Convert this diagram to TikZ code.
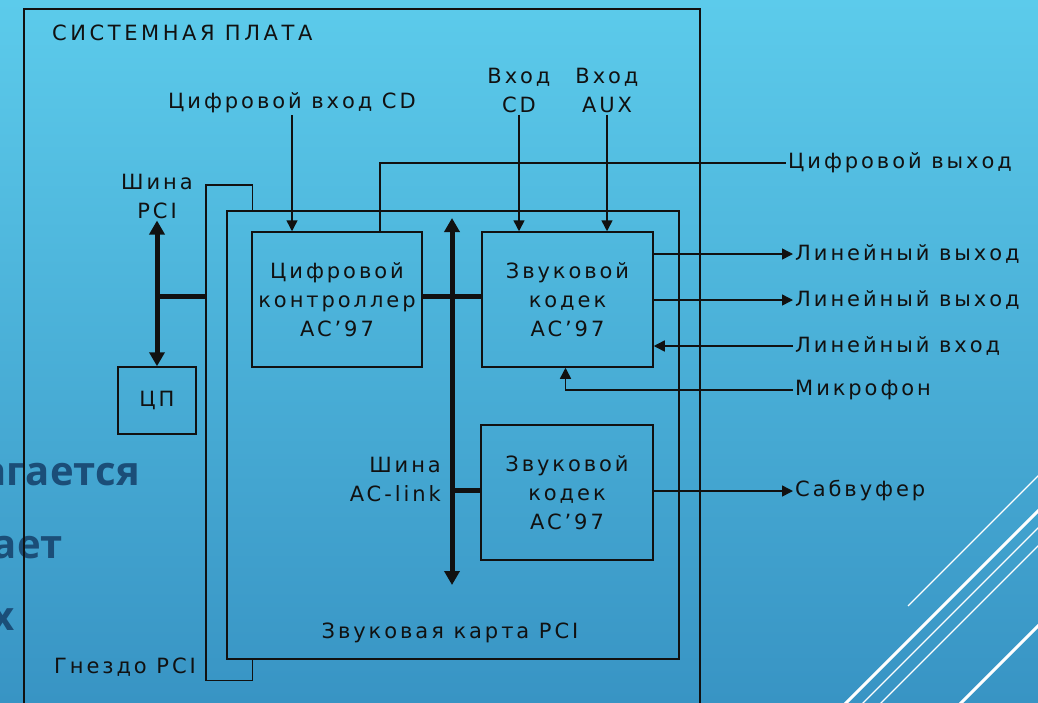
\documentclass[tikz,border=0pt]{standalone}
\usepackage{fontspec}
\newfontfamily\df[LetterSpace=14]{DejaVu Sans}
\newfontfamily\dfcaps[LetterSpace=17]{DejaVu Sans}
\newfontfamily\pop{Open Sans}
\usetikzlibrary{arrows.meta,calc}
\definecolor{bgtop}{RGB}{92,203,235}
\definecolor{bgbot}{RGB}{56,148,196}
\definecolor{slidetxt}{RGB}{27,78,120}
\definecolor{ink}{RGB}{17,17,17}
\begin{document}
\begin{tikzpicture}[x=1pt,y=-1pt,
  lbl/.style={font=\fontsize{21}{29}\selectfont\df, text=ink, inner sep=2pt, align=center},
  blk/.style={lbl, draw=ink, line width=1.5pt, anchor=center},
  ln/.style={draw=ink, line width=1.5pt},
  arr/.style={ln, -{Triangle[length=11pt,width=11pt]}},
  bus/.style={draw=ink, line width=5pt},
  busarr/.style={bus, {Triangle[length=14pt,width=15pt]}-{Triangle[length=14pt,width=15pt]}},
  slide/.style={font=\fontsize{40}{40}\selectfont\pop\bfseries, text=slidetxt, anchor=base east, inner sep=0pt},
  thinw/.style={draw=white, line width=1.3pt},
  thickw/.style={draw=white, line width=3pt}
]
\useasboundingbox (0,0) rectangle (1038,702);
\clip (0,0) rectangle (1038,702);
\fill[top color=bgtop, bottom color=bgbot] (0,0) rectangle (1038,702);

% slide text behind
\node[slide] (w1) at (140,485) {агается};
\node[slide] (w2) at (63,558) {ает};
\node[slide] (w3) at (15,630) {х};

% white decoration
\draw[thinw] (908,606) -- (1040,474);
\draw[thickw] (845,704) -- (1040,509);
\draw[thinw] (862,704) -- (1040,526);
\draw[thinw] (880,704) -- (1040,544);
\draw[thickw] (960,704) -- (1040,624);

% boards
\node[draw=ink, line width=1.5pt, minimum width=676pt, minimum height=720pt, anchor=north west, inner sep=0pt] (board) at (23,8) {};
\node[lbl, anchor=west, font=\fontsize{21}{29}\selectfont\dfcaps] (boardlbl) at (50,33) {СИСТЕМНАЯ ПЛАТА};

\node[minimum width=46pt, minimum height=495pt, anchor=north west, inner sep=0pt] (slot) at (206,185) {};
\node[draw=ink, line width=1.5pt, minimum width=452pt, minimum height=448pt, anchor=north west, inner sep=0pt] (card) at (226,210) {};
\draw[ln] (slot.east |- card.north) -- (slot.north east) -- (slot.north west) -- (slot.south west) -- (slot.south east) -- (slot.east |- card.south);
\node[lbl] (cardlbl) at (450,633) {Звуковая карта PCI};
\node[lbl] (slotlbl) at (125,667) {Гнездо PCI};

% blocks
\node[blk, minimum width=170pt, minimum height=135pt] (ctrl) at (337,299.5) {Цифровой\\контроллер\\AC’97};
\node[blk, minimum width=171pt, minimum height=135pt] (codec1) at (567.5,299.5) {Звуковой\\кодек\\AC’97};
\node[blk, minimum width=172pt, minimum height=135pt] (codec2) at (567,492.5) {Звуковой\\кодек\\AC’97};
\node[blk, minimum width=78pt, minimum height=67pt] (cpu) at (157,400.5) {ЦП};

% labels
\node[lbl] (pcilbl) at (157,196) {Шина\\PCI};
\node[lbl, anchor=east, align=right] (aclbl) at (443,479) {Шина\\AC-link};
\node[lbl] (cdin) at (292,103) {Цифровой вход CD};
\node[lbl] (incd) at (519,90) {Вход\\CD};
\node[lbl] (inaux) at (607,90) {Вход\\AUX};
\node[lbl, anchor=west] (dout) at (786,163) {Цифровой выход};
\node[lbl, anchor=west] (lo1) at (793,254) {Линейный выход};
\node[lbl, anchor=west] (lo2) at (793,300) {Линейный выход};
\node[lbl, anchor=west] (li) at (793,346) {Линейный вход};
\node[lbl, anchor=west] (mic) at (793,390) {Микрофон};
\node[lbl, anchor=west] (sub) at (793,491) {Сабвуфер};

% PCI bus
\coordinate (pcij) at (157,296);
\draw[busarr] (pcilbl.south) -- (pcilbl.south |- cpu.north);
\draw[bus] (pcij) -- (pcij -| slot.west);

% AC-link bus
\coordinate (actop) at (452,218);
\coordinate (acbot) at (452,585);
\draw[busarr] (actop) -- (acbot);
\draw[bus] ([yshift=3.5pt]ctrl.east) -- ([yshift=3.5pt]codec1.west);
\draw[bus] (acbot |- codec2.west) ++(0,-2.5) -- ([yshift=2.5pt]codec2.west);

% inputs
\draw[arr] (cdin.south) -- (cdin.south |- ctrl.north);
\draw[arr] (incd.south) -- (incd.south |- codec1.north);
\draw[arr] (inaux.south) -- (inaux.south |- codec1.north);
\draw[ln] ([xshift=43pt]ctrl.north) |- (dout.west);

% outputs
\draw[arr] (codec1.east |- lo1.west) -- (lo1.west);
\draw[arr] (codec1.east |- lo2.west) -- (lo2.west);
\draw[arr] (li.west) -- (codec1.east |- li.west);
\draw[arr] (mic.west) -| ([xshift=-2pt]codec1.south);
\draw[arr] (codec2.east |- sub.west) -- (sub.west);
\end{tikzpicture}
\end{document}
